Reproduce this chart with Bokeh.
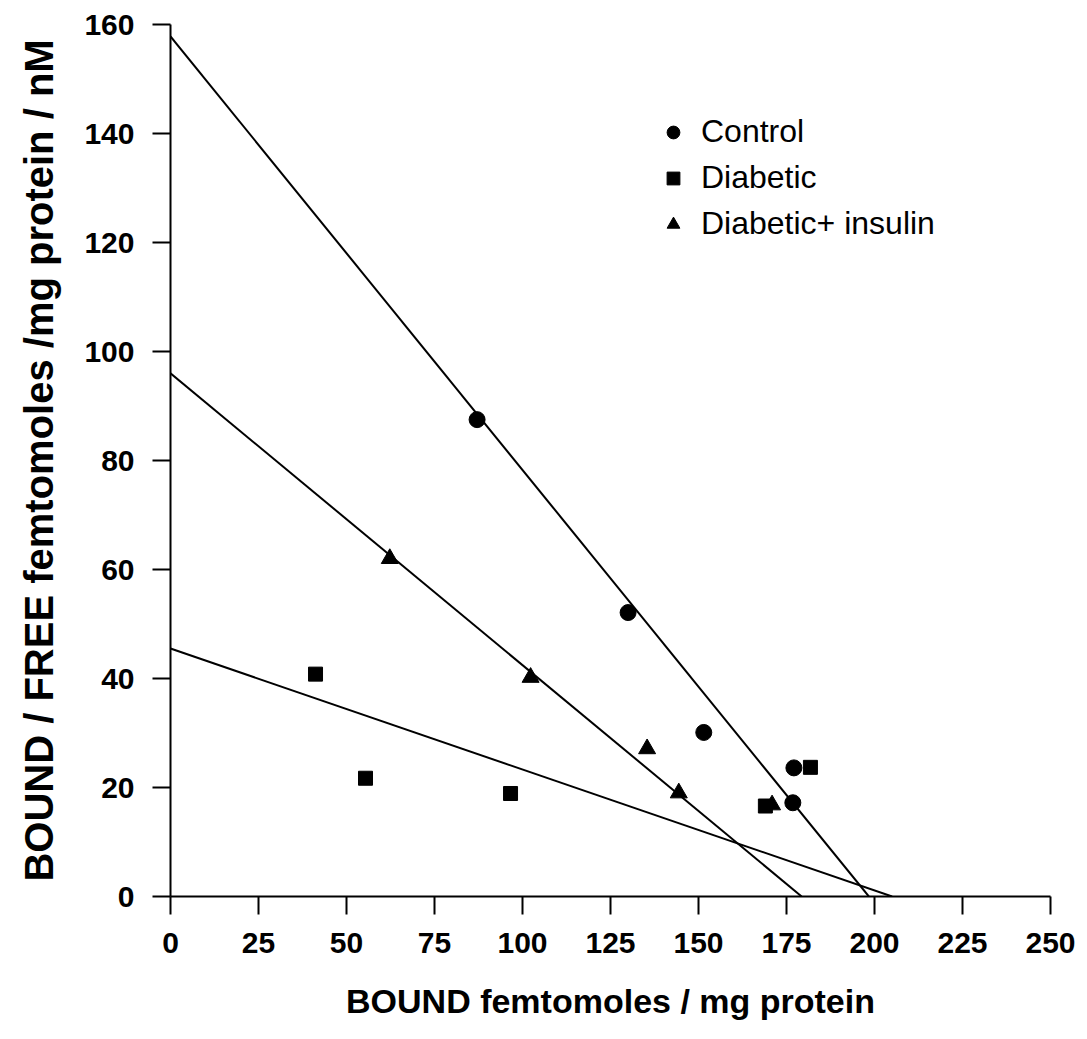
from bokeh.plotting import figure
from bokeh.models import Range1d, FixedTicker, Legend, LegendItem
from bokeh.embed import file_html
from bokeh.resources import INLINE

# ---- data ----
x_ticks = [0, 25, 50, 75, 100, 125, 150, 175, 200, 225, 250]
y_ticks = [0, 20, 40, 60, 80, 100, 120, 140, 160]

control_x = [87.1, 130.0, 151.5, 177.1, 176.8]
control_y = [87.5, 52.1, 30.1, 23.6, 17.2]

diabetic_x = [41.2, 55.4, 96.6, 169.0, 181.8]
diabetic_y = [40.8, 21.7, 18.9, 16.6, 23.7]

insulin_x = [62.3, 102.3, 135.4, 144.4, 170.9]
insulin_y = [62.0, 40.2, 27.1, 19.0, 16.8]

# fitted Scatchard lines (intercepts)
control_fit_x = [0, 198.4]
control_fit_y = [157.8, 0]
insulin_fit_x = [0, 179.3]
insulin_fit_y = [96.0, 0]
diabetic_fit_x = [0, 205.0]
diabetic_fit_y = [45.5, 0]

FONT = "Liberation Sans"

p = figure(width=1087, height=1039, output_backend="svg", toolbar_location=None,
           x_range=Range1d(0, 250), y_range=Range1d(0, 160),
           min_border_left=170, min_border_right=37,
           min_border_top=24, min_border_bottom=143)
p.outline_line_color = None
p.xgrid.visible = False
p.ygrid.visible = False
p.background_fill_color = "white"
p.border_fill_color = "white"

for ax in (p.xaxis[0], p.yaxis[0]):
    ax.axis_line_width = 2
    ax.axis_line_color = "black"
    ax.major_tick_line_width = 2
    ax.major_tick_line_color = "black"
    ax.major_tick_in = 0
    ax.major_tick_out = 18
    ax.minor_tick_line_color = None
    ax.major_label_text_font = FONT
    ax.major_label_text_font_style = "bold"
    ax.major_label_text_font_size = "30px"
    ax.major_label_text_color = "black"
    ax.axis_label_text_font = FONT
    ax.axis_label_text_font_style = "bold"
    ax.axis_label_text_color = "black"

p.xaxis[0].ticker = FixedTicker(ticks=x_ticks)
p.yaxis[0].ticker = FixedTicker(ticks=y_ticks)
p.xaxis[0].major_label_standoff = 18
p.yaxis[0].major_label_standoff = 18
p.xaxis[0].axis_label = "BOUND femtomoles / mg protein"
p.xaxis[0].axis_label_text_font_size = "34px"
p.xaxis[0].axis_label_standoff = 26
p.yaxis[0].axis_label = "BOUND / FREE femtomoles /mg protein / nM"
p.yaxis[0].axis_label_text_font_size = "40px"
p.yaxis[0].axis_label_standoff = 20

p.line(control_fit_x, control_fit_y, line_color="black", line_width=2)
p.line(insulin_fit_x, insulin_fit_y, line_color="black", line_width=2)
p.line(diabetic_fit_x, diabetic_fit_y, line_color="black", line_width=2)

r_c = p.scatter(control_x, control_y, marker="circle", size=16, color="black")
r_d = p.scatter(diabetic_x, diabetic_y, marker="square", size=14, color="black")
r_i = p.scatter(insulin_x, insulin_y, marker="triangle", size=17, color="black")

legend = Legend(items=[LegendItem(label="Control", renderers=[r_c]),
                       LegendItem(label="Diabetic", renderers=[r_d]),
                       LegendItem(label="Diabetic+ insulin", renderers=[r_i])],
                location=(487, 654))
legend.border_line_color = None
legend.background_fill_alpha = 0
legend.padding = 0
legend.margin = 0
legend.glyph_width = 32
legend.glyph_height = 32
legend.label_height = 32
legend.spacing = 9
legend.label_standoff = 12
legend.label_text_font = FONT
legend.label_text_font_size = "32px"
legend.label_text_color = "black"
p.add_layout(legend, "center")

open("out.html", "w").write(file_html(p, INLINE))
